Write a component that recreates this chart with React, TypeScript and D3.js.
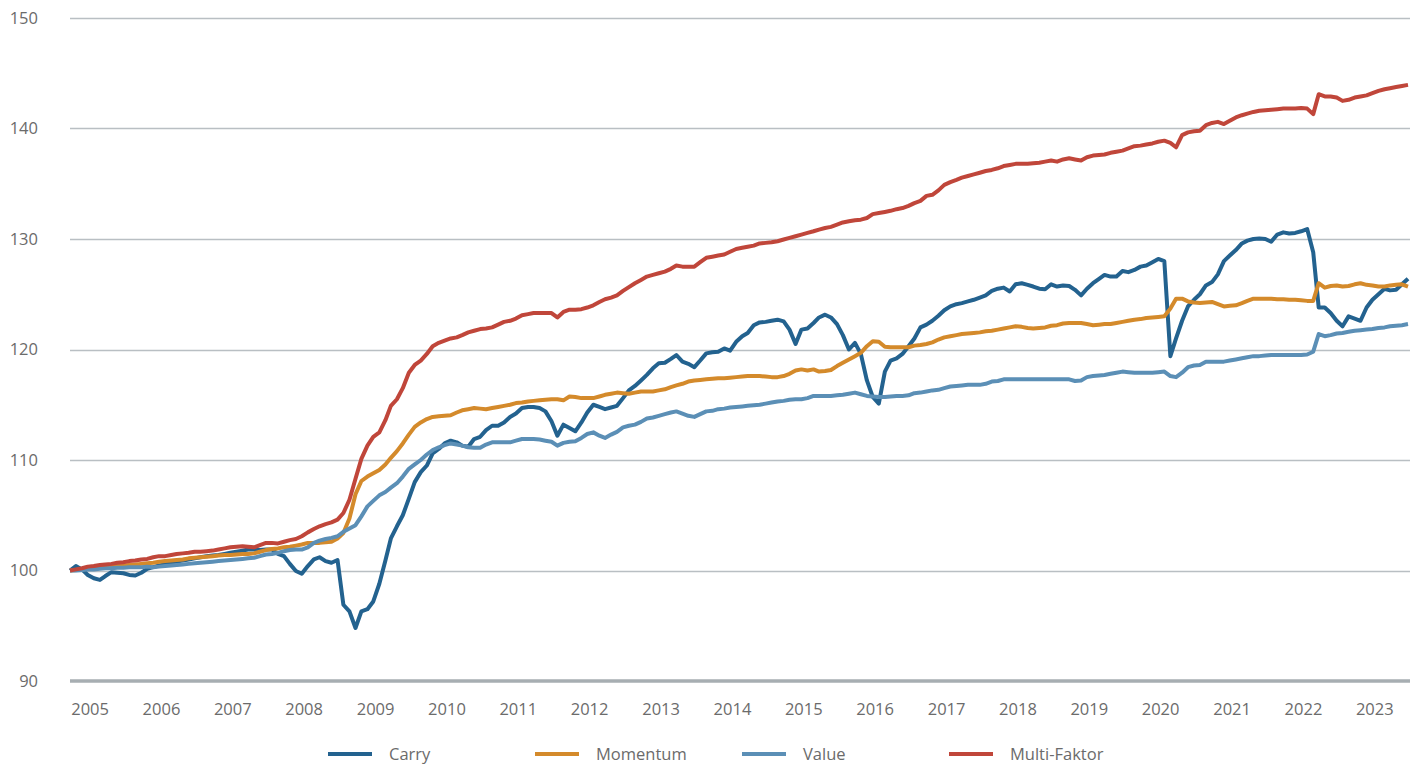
import { useEffect, useRef } from 'react';
import * as d3 from 'd3';

// monthly index values, first point ~ end of Sep 2004
const startDate = new Date(2004, 8, 20);

const carry = [
  100.0, 100.4, 100.1, 99.6, 99.3, 99.15, 99.5, 99.85, 99.8, 99.75, 99.6, 99.55,
  99.8, 100.15, 100.3, 100.45, 100.55, 100.7, 100.8, 100.9, 101.0, 101.1, 101.2, 101.3,
  101.35, 101.4, 101.5, 101.6, 101.7, 101.8, 101.9, 101.9, 101.85, 101.9, 101.9, 101.5,
  101.3, 100.6, 99.95, 99.7, 100.4, 101.0, 101.2, 100.85, 100.7, 100.95, 96.9, 96.3,
  94.8, 96.3, 96.5, 97.2, 98.8, 100.9, 102.9, 104.0, 105.0, 106.5, 108.0, 108.9,
  109.5, 110.6, 111.0, 111.5, 111.75, 111.6, 111.3, 111.2, 111.9, 112.1, 112.7, 113.1,
  113.1, 113.4, 113.9, 114.2, 114.7, 114.8, 114.8, 114.7, 114.4, 113.5, 112.2, 113.2,
  112.9, 112.6, 113.4, 114.3, 115.0, 114.8, 114.6, 114.75, 114.9, 115.6, 116.3, 116.7,
  117.2, 117.7, 118.3, 118.75, 118.8, 119.15, 119.5, 118.9, 118.7, 118.4, 119.0, 119.65,
  119.75, 119.8, 120.1, 119.9, 120.7, 121.2, 121.5, 122.2, 122.45, 122.5, 122.6, 122.7,
  122.55, 121.8, 120.5, 121.8, 121.9, 122.4, 122.9, 123.15, 122.9, 122.3, 121.3, 120.0,
  120.6, 119.6, 117.2, 115.7, 115.1, 118.0, 119.0, 119.2, 119.6, 120.3, 121.0, 122.0,
  122.25, 122.6, 123.05, 123.55, 123.9, 124.1, 124.2, 124.35, 124.5, 124.7, 124.9, 125.3,
  125.5, 125.6, 125.25, 125.9, 126.0, 125.85, 125.7, 125.5, 125.45, 125.9, 125.7, 125.8,
  125.75, 125.4, 124.9, 125.5, 126.0, 126.4, 126.75, 126.6, 126.6, 127.1, 127.0, 127.2,
  127.5, 127.6, 127.9, 128.2, 128.0, 119.4, 121.0, 122.6, 123.9, 124.5, 125.0, 125.8,
  126.1, 126.8, 128.0, 128.5, 129.0, 129.6, 129.85, 130.0, 130.05, 130.0, 129.75, 130.4,
  130.6, 130.5, 130.55, 130.7, 130.9, 128.8, 123.8, 123.8, 123.3, 122.6, 122.1, 123.0,
  122.8, 122.6, 123.8, 124.5, 125.0, 125.5, 125.35, 125.4, 125.9, 126.4,
];

const momentum = [
  100.0, 100.05, 100.1, 100.15, 100.2, 100.25, 100.3, 100.35, 100.4, 100.45, 100.5, 100.55,
  100.6, 100.65, 100.7, 100.8, 100.85, 100.9, 100.95, 101.0, 101.1, 101.15, 101.2, 101.25,
  101.3, 101.35, 101.4, 101.4, 101.45, 101.5, 101.5, 101.55, 101.7, 101.85, 101.95, 102.0,
  102.1, 102.15, 102.25, 102.35, 102.5, 102.5, 102.5, 102.55, 102.6, 102.9, 103.4, 104.7,
  106.9, 108.1, 108.5, 108.8, 109.1, 109.6, 110.2, 110.8, 111.5, 112.3, 113.0, 113.4,
  113.7, 113.9, 113.95, 114.0, 114.05, 114.3, 114.5, 114.6, 114.7, 114.65, 114.6, 114.7,
  114.8, 114.9, 115.0, 115.15, 115.2, 115.3, 115.35, 115.4, 115.45, 115.5, 115.5, 115.4,
  115.75, 115.7, 115.6, 115.6, 115.6, 115.75, 115.9, 116.0, 116.1, 116.05, 116.0, 116.1,
  116.2, 116.2, 116.2, 116.3, 116.4, 116.6, 116.75, 116.9, 117.1, 117.2, 117.25, 117.3,
  117.35, 117.4, 117.4, 117.45, 117.5, 117.55, 117.6, 117.6, 117.6, 117.55, 117.5, 117.5,
  117.6, 117.8, 118.1, 118.2, 118.1, 118.2, 118.0, 118.05, 118.15, 118.5, 118.8, 119.1,
  119.4, 119.7, 120.3, 120.75, 120.7, 120.25, 120.2, 120.2, 120.2, 120.2, 120.35, 120.4,
  120.5, 120.65, 120.9, 121.1, 121.2, 121.3, 121.4, 121.45, 121.5, 121.55, 121.65, 121.7,
  121.8, 121.9, 122.0, 122.1, 122.05, 121.95, 121.9, 121.95, 122.0, 122.15, 122.2, 122.35,
  122.4, 122.4, 122.4, 122.3, 122.2, 122.25, 122.3, 122.3, 122.4, 122.5, 122.6, 122.7,
  122.75, 122.85, 122.9, 122.95, 123.0, 123.7, 124.6, 124.6, 124.35, 124.25, 124.2, 124.25,
  124.3, 124.1, 123.9, 123.95, 124.0, 124.2, 124.4, 124.6, 124.6, 124.6, 124.6, 124.55,
  124.55, 124.5, 124.5, 124.45, 124.4, 124.4, 126.0, 125.6, 125.75, 125.8, 125.7, 125.75,
  125.9, 126.0, 125.85, 125.8, 125.7, 125.7, 125.8, 125.85, 125.9, 125.7,
];

const value = [
  100.0, 100.0, 100.05, 100.1, 100.1, 100.15, 100.2, 100.2, 100.25, 100.25, 100.3, 100.3,
  100.3, 100.35, 100.3, 100.35, 100.4, 100.45, 100.5, 100.55, 100.6, 100.65, 100.7, 100.75,
  100.8, 100.85, 100.9, 100.95, 101.0, 101.05, 101.1, 101.15, 101.3, 101.45, 101.5, 101.6,
  101.75, 101.85, 101.9, 101.9, 102.1, 102.5, 102.7, 102.85, 102.95, 103.1, 103.5, 103.8,
  104.1, 104.9, 105.8, 106.3, 106.8, 107.1, 107.5, 107.9, 108.5, 109.2, 109.6, 110.0,
  110.5, 110.9, 111.15, 111.35, 111.5, 111.4, 111.3, 111.15, 111.1, 111.1, 111.4, 111.6,
  111.6, 111.6, 111.6, 111.75, 111.9, 111.9, 111.9, 111.85, 111.75, 111.65, 111.3, 111.55,
  111.65, 111.7, 112.0, 112.35, 112.5, 112.2, 112.0, 112.3, 112.55, 112.95, 113.1, 113.2,
  113.45, 113.75, 113.85, 114.0, 114.15, 114.3, 114.4, 114.2, 114.0, 113.9, 114.15, 114.4,
  114.45, 114.6, 114.65, 114.75, 114.8, 114.85, 114.9, 114.95, 115.0, 115.1, 115.2, 115.3,
  115.35, 115.45, 115.5, 115.5, 115.6, 115.8, 115.8, 115.8, 115.8, 115.85, 115.9, 116.0,
  116.1, 115.95, 115.8, 115.75, 115.7, 115.7, 115.75, 115.8, 115.8, 115.85, 116.05, 116.1,
  116.2, 116.3, 116.35, 116.5, 116.65, 116.7, 116.75, 116.8, 116.8, 116.8, 116.9, 117.1,
  117.15, 117.3, 117.3, 117.3, 117.3, 117.3, 117.3, 117.3, 117.3, 117.3, 117.3, 117.3,
  117.3, 117.15, 117.2, 117.5, 117.6, 117.65, 117.7, 117.8, 117.9, 118.0, 117.95, 117.9,
  117.9, 117.9, 117.9, 117.95, 118.0, 117.6, 117.5, 117.9, 118.4, 118.55, 118.6, 118.9,
  118.9, 118.9, 118.9, 119.0, 119.1, 119.2, 119.3, 119.4, 119.4, 119.45, 119.5, 119.5,
  119.5, 119.5, 119.5, 119.5, 119.55, 119.8, 121.4, 121.2, 121.3, 121.45, 121.5, 121.6,
  121.7, 121.75, 121.8, 121.85, 121.95, 122.0, 122.1, 122.15, 122.2, 122.3,
];

const multiFaktor = [
  100.0, 100.1, 100.2, 100.35, 100.4, 100.5, 100.55, 100.6, 100.7, 100.75, 100.85, 100.9,
  101.0, 101.05, 101.2, 101.3, 101.3, 101.4, 101.5, 101.55, 101.6, 101.7, 101.7, 101.75,
  101.8, 101.9, 102.0, 102.1, 102.15, 102.2, 102.15, 102.1, 102.3, 102.5, 102.5, 102.45,
  102.6, 102.75, 102.85, 103.1, 103.45, 103.75, 104.0, 104.2, 104.35, 104.6, 105.2, 106.4,
  108.3, 110.1, 111.3, 112.1, 112.5, 113.6, 114.9, 115.5, 116.5, 117.9, 118.6, 119.0,
  119.6, 120.3, 120.6, 120.8, 121.0, 121.1, 121.3, 121.55, 121.7, 121.85, 121.9, 122.0,
  122.25, 122.5, 122.6, 122.8, 123.1, 123.2, 123.3, 123.3, 123.3, 123.3, 122.9, 123.4,
  123.6, 123.6, 123.65, 123.8, 124.0, 124.3, 124.55, 124.7, 124.9, 125.3, 125.65, 126.0,
  126.3, 126.6, 126.75, 126.9, 127.05, 127.3, 127.6, 127.5, 127.5, 127.5, 127.9, 128.3,
  128.4, 128.5, 128.6, 128.85, 129.1, 129.2, 129.3, 129.4, 129.6, 129.65, 129.7, 129.8,
  129.95, 130.1, 130.25, 130.4, 130.55, 130.7, 130.85, 131.0, 131.1, 131.3, 131.5, 131.6,
  131.7, 131.75, 131.9, 132.25, 132.35, 132.45, 132.55, 132.7, 132.8, 133.0, 133.25, 133.45,
  133.9, 134.0, 134.4, 134.9, 135.15, 135.35, 135.55, 135.7, 135.85, 136.0, 136.15, 136.25,
  136.4, 136.6, 136.7, 136.8, 136.8, 136.8, 136.85, 136.9, 137.0, 137.1, 137.0, 137.2,
  137.3, 137.2, 137.1, 137.4, 137.55, 137.6, 137.65, 137.8, 137.9, 138.0, 138.2, 138.4,
  138.45, 138.55, 138.65, 138.8, 138.9, 138.7, 138.3, 139.4, 139.65, 139.75, 139.8, 140.3,
  140.5, 140.6, 140.4, 140.7, 141.0, 141.2, 141.35, 141.5, 141.6, 141.65, 141.7, 141.75,
  141.8, 141.8, 141.8, 141.85, 141.8, 141.3, 143.1, 142.9, 142.9, 142.8, 142.5, 142.6,
  142.8, 142.9, 143.0, 143.2, 143.4, 143.55, 143.65, 143.75, 143.85, 143.95,
];

const seriesNames = ['Carry', 'Momentum', 'Value', 'Multi-Faktor'];
const seriesColors = ['#23628f', '#d48a2b', '#5b8fb6', '#c0463a'];
const yTicks = [90, 100, 110, 120, 130, 140, 150];
const yearTicks = d3.range(2005, 2024);

export default function App() {
  const ref = useRef<SVGSVGElement | null>(null);

  useEffect(() => {
    const svg = d3.select(ref.current);
    svg.selectAll('*').remove();

    const width = 1422;
    const height = 764;
    const font = "'Open Sans', 'Noto Sans', sans-serif";
    const textColor = '#6b6b6b';

    const dates = carry.map((_, i) => d3.timeMonth.offset(startDate, i));
    const allSeries = [carry, momentum, value, multiFaktor];

    const x = d3.scaleTime()
      .domain([dates[0], dates[dates.length - 1]])
      .range([70, 1408]);

    const y = d3.scaleLinear()
      .domain([90, 150])
      .range([681, 18]);

    svg.attr('width', width).attr('height', height);

    // grid lines
    svg.append('g')
      .selectAll('line')
      .data(yTicks.filter(d => d !== 90))
      .join('line')
      .attr('x1', 70)
      .attr('x2', 1410)
      .attr('y1', d => Math.round(y(d)) + 0.5)
      .attr('y2', d => Math.round(y(d)) + 0.5)
      .attr('stroke', '#b9bfc3')
      .attr('stroke-width', 1.3);

    // y labels
    svg.append('g')
      .selectAll('text')
      .data(yTicks)
      .join('text')
      .attr('x', 38)
      .attr('y', d => y(d))
      .attr('dy', '0.35em')
      .attr('text-anchor', 'end')
      .attr('fill', textColor)
      .style('font-family', font)
      .style('font-size', '16.5px')
      .text(d => d);

    // series
    const line = d3.line<number>()
      .x((_, i) => x(dates[i]))
      .y(d => y(d));

    allSeries.forEach((s, i) => {
      svg.append('path')
        .datum(s)
        .attr('fill', 'none')
        .attr('stroke', seriesColors[i])
        .attr('stroke-width', 4)
        .attr('stroke-linejoin', 'round')
        .attr('d', line);
    });

    // bottom axis line at 90
    svg.append('line')
      .attr('x1', 70)
      .attr('x2', 1410)
      .attr('y1', y(90))
      .attr('y2', y(90))
      .attr('stroke', '#a7aeb2')
      .attr('stroke-width', 3.5);

    // year labels
    svg.append('g')
      .selectAll('text')
      .data(yearTicks)
      .join('text')
      .attr('x', d => x(new Date(d, 0, 1)))
      .attr('y', 709)
      .attr('dy', '0.35em')
      .attr('text-anchor', 'middle')
      .attr('fill', textColor)
      .style('font-family', font)
      .style('font-size', '16.5px')
      .text(d => d);

    // legend
    const legend = svg.append('g')
      .selectAll('g')
      .data(seriesNames)
      .join('g')
      .attr('transform', (_, i) => `translate(${328 + i * 207},754)`);

    legend.append('line')
      .attr('x1', 0)
      .attr('x2', 44)
      .attr('stroke', (_, i) => seriesColors[i])
      .attr('stroke-width', 4);

    legend.append('text')
      .attr('x', 61)
      .attr('dy', '0.35em')
      .attr('fill', textColor)
      .style('font-family', font)
      .style('font-size', '16.5px')
      .text(d => d);
  }, []);

  return <svg ref={ref} style={{ position: 'absolute', left: 0, top: 0, display: 'block' }} />;
}
